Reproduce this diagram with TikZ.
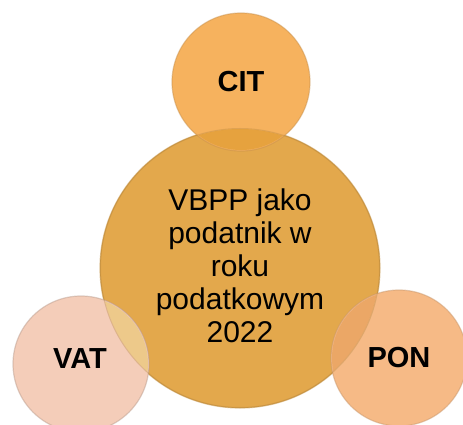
\documentclass[tikz,border=0pt]{standalone}
\usepackage{fontspec}
\setmainfont{Liberation Sans}
\definecolor{bigc}{HTML}{E3A84C}
\definecolor{citc}{HTML}{F6B25E}
\definecolor{vatc}{HTML}{F4CDB9}
\definecolor{ponc}{HTML}{F6BA86}
\definecolor{citov}{HTML}{E6A23E}
\definecolor{vatov}{HTML}{EDC98A}
\definecolor{ponov}{HTML}{EBA766}
\tikzset{
  disc/.style={circle, inner sep=0pt, line width=1.2pt},
  lab/.style={font=\fontsize{29}{33}\selectfont\bfseries, text=black},
  maintext/.style={font=\fontsize{30}{33}\selectfont, align=center, text=black}
}
\begin{document}
\begin{tikzpicture}[x=1pt,y=-1pt]
\useasboundingbox (0,0) rectangle (463,425);
\node[disc, minimum size=280pt, fill=bigc, draw=bigc!85!black, draw opacity=0.5] (vbpp) at (240,268) {};
\node[disc, minimum size=138pt, fill=citc, draw=citc!80!black, draw opacity=0.45] (cit) at (241,82) {};
\node[disc, minimum size=136pt, fill=vatc, draw=vatc!75!black, draw opacity=0.45] (vat) at (81,364) {};
\node[disc, minimum size=136pt, fill=ponc, draw=ponc!80!black, draw opacity=0.45] (pon) at (399,358) {};
\begin{scope}
  \clip (vbpp.center) circle (139pt);
  \fill[citov] (cit.center) circle (68pt);
  \fill[vatov] (vat.center) circle (67pt);
  \fill[ponov] (pon.center) circle (67pt);
\end{scope}
\draw[bigc!80!black, line width=1pt, opacity=0.35] (vbpp.center) circle (139.5pt);
\node[lab] (citl) at (cit.center) {CIT};
\node[lab] (vatl) at (80,359) {VAT};
\node[lab] (ponl) at (pon.center) {PON};
\node[maintext] (vbppl) at (240,266) {VBPP jako\\podatnik w\\roku\\podatkowym\\2022};
\end{tikzpicture}
\end{document}
